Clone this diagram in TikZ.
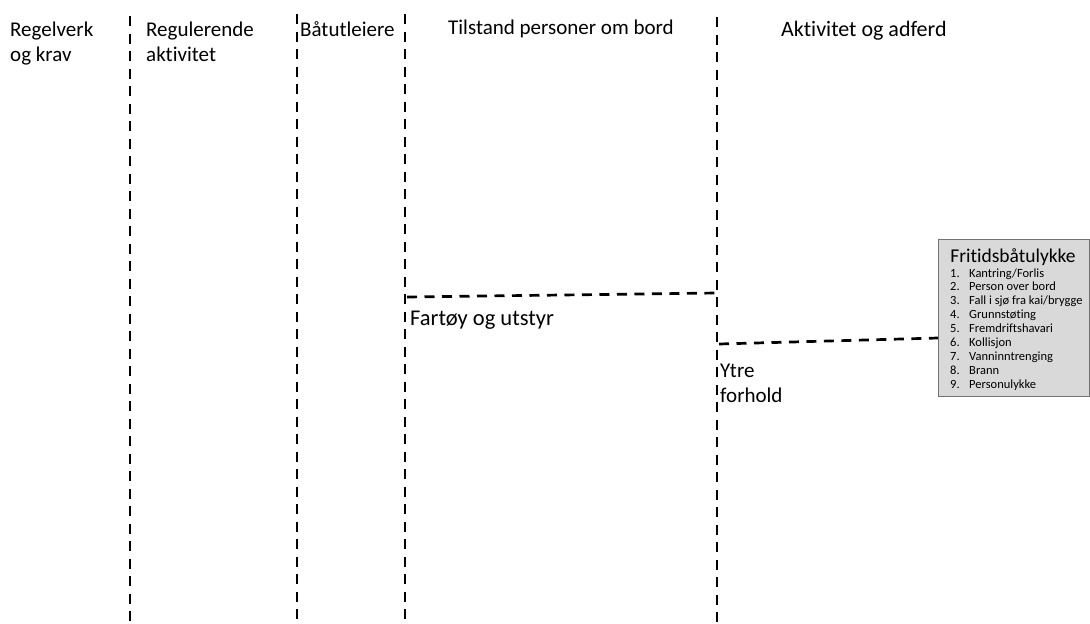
\documentclass[tikz,border=0pt]{standalone}
\usepackage{fontspec}
\setmainfont{Carlito}[Ligatures=NoCommon]
\begin{document}
\begin{tikzpicture}[x=1pt,y=-1pt,
  divider/.style={line width=2.7pt, dash pattern=on 10pt off 7.5pt},
  hdr/.style={anchor=base west, inner sep=0pt, align=left,
              font=\fontsize{21}{25}\selectfont},
  listbox/.style={draw=black!55, fill=black!15, line width=0.8pt,
                  anchor=north west, inner sep=0pt,
                  minimum width=151pt, minimum height=157pt},
  boxtitle/.style={anchor=base, inner sep=0pt, font=\fontsize{19.5}{22}\selectfont},
  itemtxt/.style={anchor=base west, inner sep=0pt, font=\fontsize{12.5}{14}\selectfont}]
\useasboundingbox (0,0) rectangle (1090,624);

% column dividers
\coordinate (d1t) at (130,16);  \coordinate (d1b) at (130,624);
\coordinate (d2t) at (297,14);  \coordinate (d2b) at (297,624);
\coordinate (d3t) at (405,14);  \coordinate (d3b) at (405,624);
\coordinate (d4t) at (717,17);  \coordinate (d4b) at (717,624);
\draw[divider] (d1t) -- (d1b);
\draw[divider] (d2t) -- (d2b);
\draw[divider] (d3t) -- (d3b);
\draw[divider] (d4t) -- (d4b);

% column headings (base anchor sits on the last line)
\node[hdr] (regelverk) at (10,61) {Regelverk\\og krav};
\node[hdr] (regulerende) at (146,61) {Regulerende\\aktivitet};
\node[hdr] (utleiere) at (300,36) {Båtutleiere};
\node[hdr] (tilstand) at (448,34) {Tilstand personer om bord};
\node[hdr, font=\fontsize{22}{25}\selectfont] (aktivitet) at (781,36) {Aktivitet og adferd};

% accident box
\node[listbox] (ulykke) at (938,239) {};
\node[boxtitle] (ulykketittel) at (1013,262) {Fritidsbåtulykke};
\foreach \t [count=\i] in {Kantring/Forlis, Person over bord,
    Fall i sjø fra kai/brygge, Grunnstøting, Fremdriftshavari,
    Kollisjon, Vanninntrenging, Brann, Personulykke}{
  \node[itemtxt] (nr\i) at (950,{277+(\i-1)*13.9}) {\i.};
  \node[itemtxt] (punkt\i) at (969,{277+(\i-1)*13.9}) {\t};
}

% horizontal separators
\coordinate (h1s) at (407,297);
\coordinate (h1e) at (717,293);
\draw[divider] (h1s) -- (h1e);
\coordinate (h2s) at (719,344);
\coordinate (h2e) at (938,338);
\draw[divider] (h2s) -- (h2e);

% region labels
\node[hdr, font=\fontsize{22.5}{25}\selectfont] (fartoy) at (410,325) {Fartøy og utstyr};
\node[hdr] (ytre) at (720,402) {Ytre\\forhold};
\end{tikzpicture}
\end{document}
